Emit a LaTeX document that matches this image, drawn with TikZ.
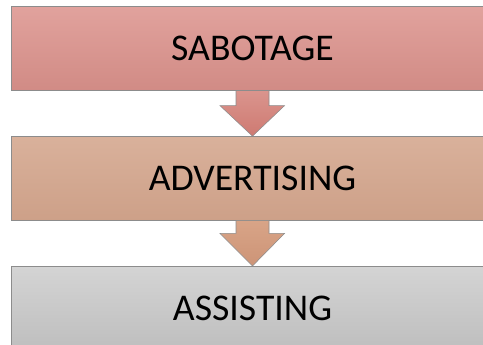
\documentclass[tikz,border=0pt]{standalone}
\usepackage{fontspec}
\setmainfont{Carlito}
\usepackage{xcolor}
\usepackage{tikz}
\definecolor{rose1} {RGB} {225, 162, 157}
\definecolor{rose2} {RGB} {209, 139, 133}
\definecolor{rosearr1} {RGB} {218, 148, 141}
\definecolor{rosearr2} {RGB} {206, 122, 114}
\definecolor{tan1} {RGB} {217, 177, 155}
\definecolor{tan2} {RGB} {205, 160, 136}
\definecolor{tanarr1} {RGB} {216, 164, 135}
\definecolor{tanarr2} {RGB} {205, 148, 119}
\definecolor{grey1} {RGB} {212, 212, 212}
\definecolor{grey2} {RGB} {190, 190, 190}
\definecolor{edge6} {RGB} {140, 140, 140}
\usetikzlibrary{positioning,calc}
\tikzstyle{stage}=[
  rectangle, draw=edge6, line width=0.6pt, minimum width=362.25pt, minimum height=63pt,
  inner sep=0pt, font=\fontsize{28.3}{33}\selectfont
]
\tikzstyle{blockarrow}=[draw=edge6, line width=0.4pt]
\begin{document}
\begin{tikzpicture}[x=0.75pt,y=-0.75pt]
  \useasboundingbox (0,0) rectangle (483,344);
  \begin{scope}
  \clip (0,0) rectangle (483,344);
  \fill[white] (0,0) rectangle (483,344);
  \node[stage, top color=rose1, bottom color=rose2] (sab) at (252.5,48.75) {SABOTAGE};
  \node[stage, top color=tan1, bottom color=tan2, below=33.75pt of sab] (adv) {ADVERTISING};
  \node[stage, top color=grey1, bottom color=grey2, below=33.75pt of adv] (ass) {ASSISTING};
  % block arrows between the stages
  \draw[blockarrow, top color=rosearr1, bottom color=rosearr2]
    ($(sab.south)+(-16.5,0)$) -- ++(0,14.5) -- ++(-16,0) -- (adv.north)
    -- ($(sab.south)+(32,14.5)$) -- ++(-15.5,0) -- ($(sab.south)+(16.5,0)$);
  \draw[blockarrow, top color=tanarr1, bottom color=tanarr2]
    ($(adv.south)+(-16.5,0)$) -- ++(0,12.5) -- ++(-16,0) -- (ass.north)
    -- ($(adv.south)+(32,12.5)$) -- ++(-15.5,0) -- ($(adv.south)+(16.5,0)$);
  \end{scope}
\end{tikzpicture}
\end{document}
